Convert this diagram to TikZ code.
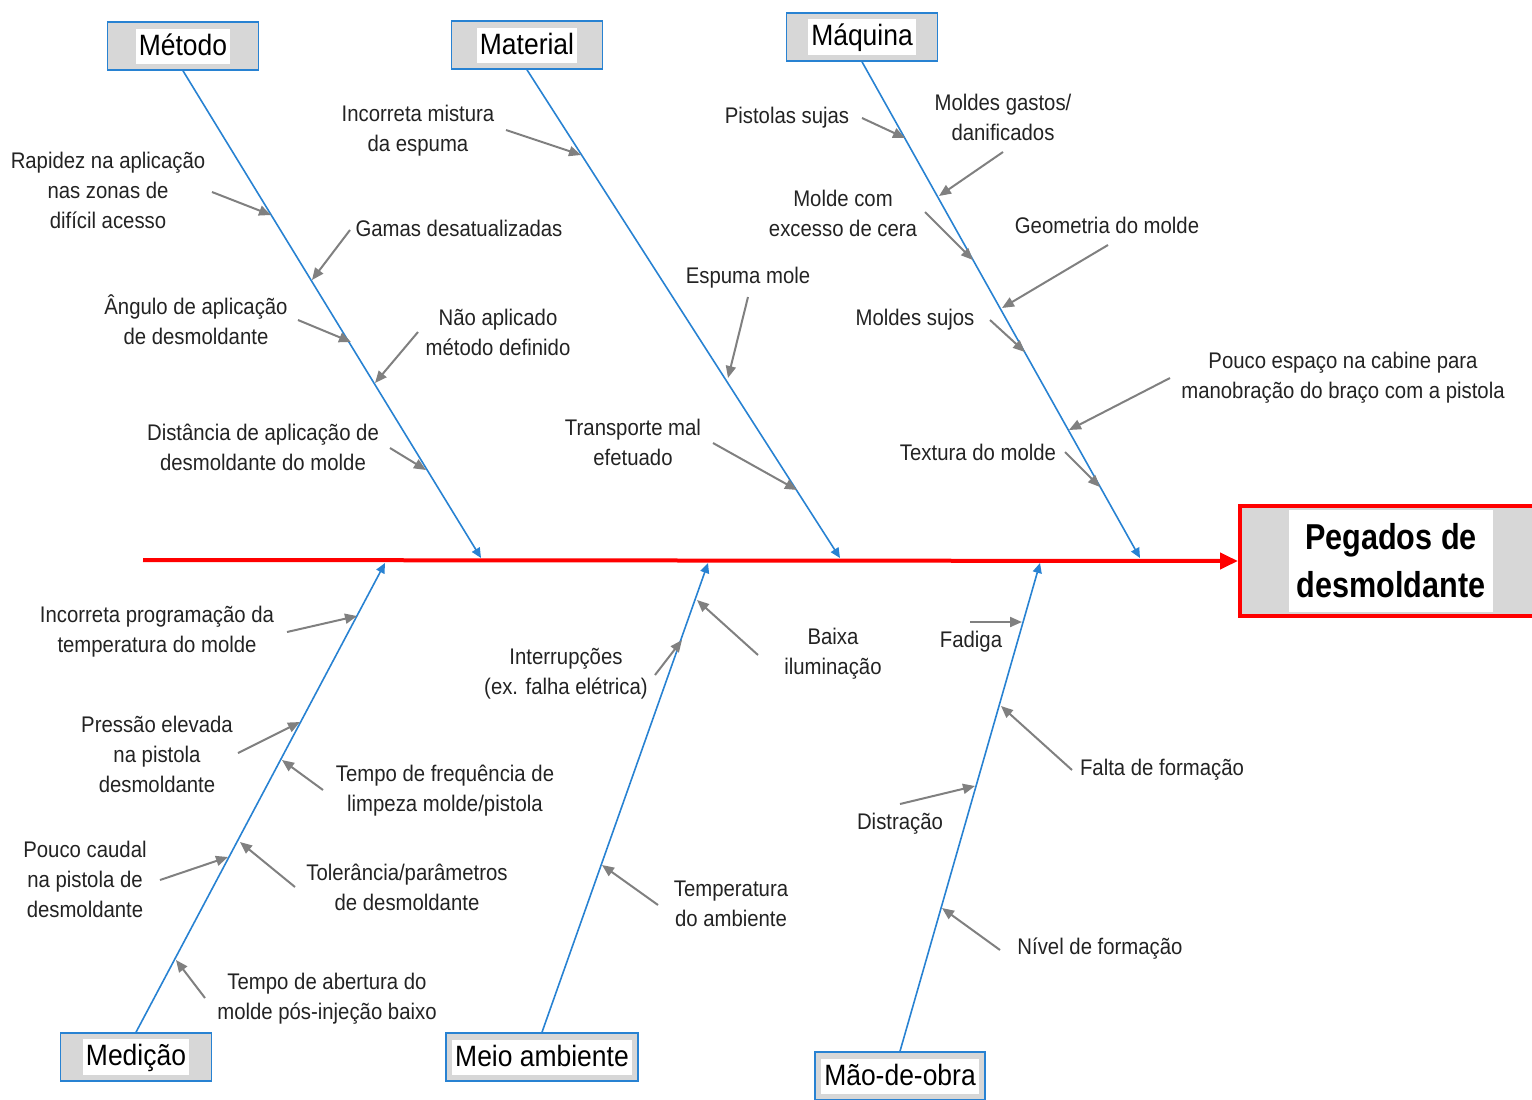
\documentclass[tikz,border=0pt]{standalone}
\usepackage{fontspec}
\setmainfont{Liberation Sans}[FakeStretch=0.9]
\newfontfamily\efffont{Liberation Sans}[FakeStretch=0.85]
\usetikzlibrary{arrows.meta}
\definecolor{boneblue}{RGB}{40,130,210}
\definecolor{causegray}{RGB}{128,128,128}
\definecolor{boxgray}{RGB}{215,215,215}
\definecolor{txt}{RGB}{35,35,35}
\newcommand\wbox[1]{{\setlength\fboxsep{1.5pt}\colorbox{white}{\rule[-2.5pt]{0pt}{14.5pt}#1}}}
\begin{document}
\begin{tikzpicture}[x=0.5pt,y=-0.5pt,
  lbl/.style={font=\fontsize{11.3}{15}\selectfont, align=center, text=txt, inner sep=0pt},
  catbox/.style={draw=boneblue, line width=0.8pt, fill=boxgray, minimum width=75.5pt, minimum height=24pt, inner xsep=3pt, inner ysep=0pt, font=\fontsize{14.7}{16}\selectfont, text=black},
  bone/.style={draw=boneblue, line width=0.8pt, -{Triangle[length=5pt,width=4.5pt]}},
  cause/.style={draw=causegray, line width=1pt, -{Triangle[length=6pt,width=5pt]}},
  spine/.style={draw=red, line width=2pt, -{Triangle[length=9pt,width=8pt]}}]
\useasboundingbox (0,0) rectangle (1532,1099);

% effect
\node[draw=red, line width=2pt, fill=boxgray, minimum width=150pt, minimum height=55pt, inner sep=0pt] (effbox) at (1390,561) {};
\node[fill=white, minimum width=102pt, minimum height=51pt, font=\efffont\bfseries\fontsize{18}{24}\selectfont, align=center, inner sep=0pt, text=black] (eff) at (1391,561) {Pegados de\\desmoldante};
\coordinate (spst) at (143,560);
\draw[spine] (spst) -- (effbox.west);

% categories
\node[catbox] (met) at (183,46) {\wbox{Método}};
\node[catbox] (mat) at (527,45) {\wbox{Material}};
\node[catbox] (maq) at (862,37) {\wbox{Máquina}};
\node[catbox] (med) at (136,1057) {\wbox{Medição}};
\node[catbox] (mei) at (542,1057) {\wbox{Meio ambiente}};
\node[catbox] (mao) at (900,1076) {\wbox{Mão-de-obra}};

% bone ends
\coordinate (metE) at (481,558);
\coordinate (matE) at (840,558);
\coordinate (maqE) at (1140,558);
\coordinate (medE) at (385,563);
\coordinate (meiE) at (708,563);
\coordinate (maoE) at (1040,563);
\draw[bone] (met.south) -- (metE);
\draw[bone] (mat.south) -- (matE);
\draw[bone] (maq.south) -- (maqE);
\draw[bone] (med.north) -- (medE);
\draw[bone] (mei.north) -- (meiE);
\draw[bone] (mao.north) -- (maoE);

% Método causes
\node[lbl] (c1) at (108,190) {Rapidez na aplicação\\nas zonas de\\difícil acesso};
\node[lbl] (c2) at (459,228) {Gamas desatualizadas};
\node[lbl] (c3) at (196,320) {Ângulo de aplicação\\de desmoldante};
\node[lbl] (c4) at (498,332) {Não aplicado\\método definido};
\node[lbl] (c5) at (263,447) {Distância de aplicação de\\desmoldante do molde};
\coordinate (s1) at (212,192); \coordinate (t1) at (271,215);
\coordinate (s2) at (350,230); \coordinate (t2) at (312,280);
\coordinate (s3) at (298,320); \coordinate (t3) at (351,342);
\coordinate (s4) at (418,332); \coordinate (t4) at (375,383);
\coordinate (s5) at (390,448); \coordinate (t5) at (426,470);
\draw[cause] (s1) -- (t1);
\draw[cause] (s2) -- (t2);
\draw[cause] (s3) -- (t3);
\draw[cause] (s4) -- (t4);
\draw[cause] (s5) -- (t5);

% Material causes
\node[lbl] (c6) at (418,131) {Incorreta mistura\\da espuma};
\node[lbl] (c7) at (748,278) {Espuma mole};
\node[lbl] (c8) at (633,442) {Transporte mal\\efetuado};
\coordinate (s6) at (506,130); \coordinate (t6) at (581,155);
\coordinate (s7) at (748,297); \coordinate (t7) at (728,378);
\coordinate (s8) at (713,443); \coordinate (t8) at (797,490);
\draw[cause] (s6) -- (t6);
\draw[cause] (s7) -- (t7);
\draw[cause] (s8) -- (t8);

% Máquina causes
\node[lbl] (c9) at (787,118) {Pistolas sujas};
\node[lbl] (c10) at (1003,117) {Moldes gastos/\\danificados};
\node[lbl] (c11) at (843,213) {Molde com\\excesso de cera};
\node[lbl] (c12) at (1107,225) {Geometria do molde};
\node[lbl] (c13) at (915,320) {Moldes sujos};
\node[lbl] (c14) at (1343,378) {Pouco espaço na cabine para\\manobração do braço com a pistola};
\node[lbl] (c15) at (978,452) {Textura do molde};
\coordinate (s9) at (862,118); \coordinate (t9) at (905,138);
\coordinate (s10) at (1003,152); \coordinate (t10) at (939,196);
\coordinate (s11) at (925,212); \coordinate (t11) at (973,260);
\coordinate (s12) at (1108,245); \coordinate (t12) at (1002,308);
\coordinate (s13) at (990,320); \coordinate (t13) at (1025,352);
\coordinate (s14) at (1170,378); \coordinate (t14) at (1069,430);
\coordinate (s15) at (1065,452); \coordinate (t15) at (1100,487);
\draw[cause] (s9) -- (t9);
\draw[cause] (s10) -- (t10);
\draw[cause] (s11) -- (t11);
\draw[cause] (s12) -- (t12);
\draw[cause] (s13) -- (t13);
\draw[cause] (s14) -- (t14);
\draw[cause] (s15) -- (t15);

% Medição causes
\node[lbl] (c16) at (157,632) {Incorreta programação da\\temperatura do molde};
\node[lbl] (c17) at (157,754) {Pressão elevada\\na pistola\\desmoldante};
\node[lbl] (c18) at (445,791) {Tempo de frequência de\\limpeza molde/pistola};
\node[lbl] (c19) at (85,879) {Pouco caudal\\na pistola de\\desmoldante};
\node[lbl] (c20) at (407,887) {Tolerância/parâmetros\\de desmoldante};
\node[lbl] (c21) at (327,999) {Tempo de abertura do\\molde pós-injeção baixo};
\coordinate (s16) at (287,632); \coordinate (t16) at (357,616);
\coordinate (s17) at (238,753); \coordinate (t17) at (300,722);
\coordinate (s18) at (323,790); \coordinate (t18) at (282,760);
\coordinate (s19) at (160,880); \coordinate (t19) at (228,857);
\coordinate (s20) at (295,887); \coordinate (t20) at (240,842);
\coordinate (s21) at (205,998); \coordinate (t21) at (176,960);
\draw[cause] (s16) -- (t16);
\draw[cause] (s17) -- (t17);
\draw[cause] (s18) -- (t18);
\draw[cause] (s19) -- (t19);
\draw[cause] (s20) -- (t20);
\draw[cause] (s21) -- (t21);

% Meio ambiente causes
\node[lbl] (c22) at (566,674) {Interrupções\\(ex. falha elétrica)};
\node[lbl] (c23) at (833,654) {Baixa\\iluminação};
\node[lbl] (c24) at (731,904) {Temperatura\\do ambiente};
\coordinate (s22) at (655,675); \coordinate (t22) at (682,640);
\coordinate (s23) at (758,655); \coordinate (t23) at (697,600);
\coordinate (s24) at (658,905); \coordinate (t24) at (602,865);
\draw[cause] (s22) -- (t22);
\draw[cause] (s23) -- (t23);
\draw[cause] (s24) -- (t24);

% Mão-de-obra causes
\node[lbl] (c25) at (971,642) {Fadiga};
\node[lbl] (c26) at (1162,770) {Falta de formação};
\node[lbl] (c27) at (900,824) {Distração};
\node[lbl] (c28) at (1100,949) {Nível de formação};
\coordinate (s25) at (970,622); \coordinate (t25) at (1022,622);
\coordinate (s26) at (1072,770); \coordinate (t26) at (1001,706);
\coordinate (s27) at (900,804); \coordinate (t27) at (975,786);
\coordinate (s28) at (1000,950); \coordinate (t28) at (942,908);
\draw[cause] (s25) -- (t25);
\draw[cause] (s26) -- (t26);
\draw[cause] (s27) -- (t27);
\draw[cause] (s28) -- (t28);
\end{tikzpicture}
\end{document}
